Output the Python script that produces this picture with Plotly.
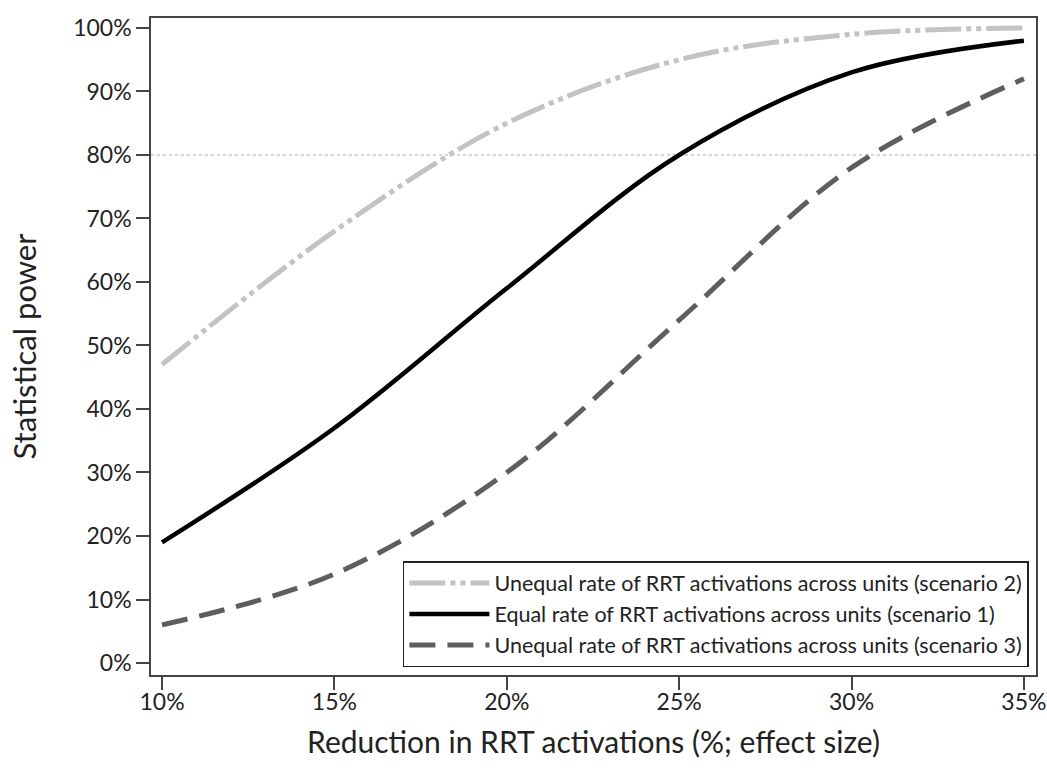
import plotly.graph_objects as go

effect_size = [10, 15, 20, 25, 30, 35]
tick_vals_x = [10, 15, 20, 25, 30, 35]
tick_vals_y = [0, 10, 20, 30, 40, 50, 60, 70, 80, 90, 100]
power_s2 = [47, 68, 85, 95, 99, 100]
power_s1 = [19, 37, 59, 80, 93, 98]
power_s3 = [6, 14, 30, 54, 78, 92]
names = [
    "Unequal rate of RRT activations across units (scenario 2)",
    "Equal rate of RRT activations across units (scenario 1)",
    "Unequal rate of RRT activations across units (scenario 3)",
]
threshold = 80

FONT = "Lato, Open Sans, sans-serif"
TXT = "#222222"

fig = go.Figure()
fig.add_trace(go.Scatter(x=effect_size, y=power_s2, mode="lines", name=names[0],
                         line=dict(color="#c3c3c3", width=5, shape="spline",
                                   dash="36px,5px,5px,5px,5px,5px")))
fig.add_trace(go.Scatter(x=effect_size, y=power_s1, mode="lines", name=names[1],
                         line=dict(color="#000000", width=4.5, shape="spline")))
fig.add_trace(go.Scatter(x=effect_size, y=power_s3, mode="lines", name=names[2],
                         line=dict(color="#5e5e5e", width=5, shape="spline",
                                   dash="26px,12px")))

fig.add_shape(type="line", xref="paper", x0=0, x1=1, yref="y", y0=threshold, y1=threshold,
              line=dict(color="#c8c8c8", width=1.5, dash="dot"), layer="below")

fig.update_layout(
    width=1047, height=772,
    margin=dict(l=151, r=11, t=18, b=97, autoexpand=False),
    plot_bgcolor="white", paper_bgcolor="white",
    font=dict(family=FONT, color=TXT),
    showlegend=True,
    legend=dict(x=0.992, y=0.012, xanchor="right", yanchor="bottom",
                bgcolor="white", bordercolor="#222222", borderwidth=1.5,
                font=dict(size=21.5, family=FONT, color=TXT),
                itemwidth=80, tracegroupgap=0),
    xaxis=dict(range=[9.68, 35.35], tickvals=tick_vals_x,
               ticktext=[f"{v}%" for v in tick_vals_x],
               showgrid=False, zeroline=False, showline=True, mirror=True,
               linecolor="#444444", linewidth=1.5, ticks="outside", ticklen=13,
               tickwidth=1.5, tickcolor="#444444", automargin=False,
               ticklabelstandoff=-7,
               tickfont=dict(size=23, family=FONT, color=TXT),
               title=dict(text="Reduction in RRT activations (%; effect size)",
                          font=dict(size=30, family=FONT, color=TXT), standoff=18)),
    yaxis=dict(range=[-1.89, 101.57], tickvals=tick_vals_y,
               ticktext=[f"{v}%" for v in tick_vals_y],
               showgrid=False, zeroline=False, showline=True, mirror=True,
               linecolor="#444444", linewidth=1.5, ticks="outside", ticklen=13,
               tickwidth=1.5, tickcolor="#444444", automargin=False,
               tickfont=dict(size=23, family=FONT, color=TXT),
               title=dict(text="Statistical power",
                          font=dict(size=31, family=FONT, color=TXT), standoff=27)),
)

fig.write_html("out.html", config={"displayModeBar": False},
               post_script="document.body.style.margin='0px';document.body.style.overflow='hidden';")
